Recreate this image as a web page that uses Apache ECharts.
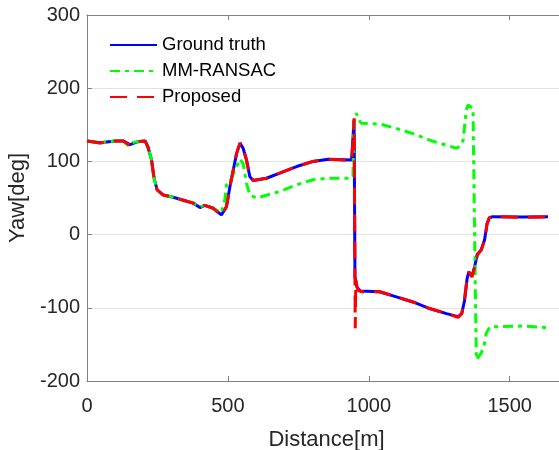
<!DOCTYPE html>
<html>
<head>
<meta charset="utf-8">
<script src="https://cdn.jsdelivr.net/npm/echarts@6/dist/echarts.min.js"></script>
<style>html,body{margin:0;padding:0;background:#fff;}#c{width:559px;height:450px;}</style>
</head>
<body>
<div id="c"></div>
<script>
var gtDist = [0,46,100,128,152,181,206,216,229,238,249,271,306,342,377,401,418,448,477,495,507,519,531,543,554,566,578,590,637,684,744,802,856,939,945,948,951,958,970,1039,1098,1157,1216,1276,1317,1330,1340,1349,1355,1366,1375,1385,1399,1411,1420,1428,1440,1547,1636];
var gtYaw  = [128,125.5,128,128,123,127,128,120,102,77,61,54,51,47,43,37,40,36,27,38,65,88,111,125,118,102,79,74,77,84,93,100,103,102,103,157,-58,-72,-77,-78,-85,-92,-101,-108,-112,-108,-90,-60,-51,-57,-45,-27,-21,-7,15,23,24.5,24,24.5];

var ransacDist = [0,46,100,128,145,152,165,181,206,216,229,238,249,271,306,342,377,401,418,448,477,489,495,507,525,543,554,566,578,602,684,744,802,856,940,944,947,956,962,974,1039,1098,1157,1216,1276,1311,1325,1335,1346,1352,1370,1376,1379,1382,1399,1410,1417,1429,1547,1636];
var ransacYaw  = [128,125.5,128,128,122,121,126,127,128,120,102,77,61,54,51,47,43,38,40,36,30,47,68,72,88,103,97,70,54,50,59,68,75,77,77,80,150,166,158,152,151,145,138,129,122,118,121,129,170,177,172.5,170,-100,-171,-162,-150,-135,-126,-125,-127];

var propDist = [0,46,100,128,152,181,206,216,229,238,249,271,306,342,377,401,418,448,477,495,507,519,531,543,554,566,578,590,637,684,744,802,856,940,946,948,952,954,961,975,1039,1098,1157,1216,1276,1317,1330,1340,1349,1355,1366,1375,1385,1399,1411,1420,1428,1440,1547,1636];
var propYaw  = [128,125,128,128,122,127,128,120,102,77,61,54,51,47,43,37,40,36,26,38,65,88,111,125,118,102,79,74,77,84,93,100,103,101,101,159,-128,-62,-76,-78,-78,-85,-92,-101,-108,-113,-108,-88,-60,-51,-58,-46,-28,-21,-8,15,23,24.5,23.5,24];

var xTicks = [0,500,1000,1500];
var yTicks = [-200,-100,0,100,200,300];

function zip(a,b){var r=[];for(var i=0;i<a.length;i++){r.push([a[i],b[i]]);}return r;}

var axisColor = '#808080';
var textColor = '#262626';
var font = 'Liberation Sans, Arial, sans-serif';

var chart = echarts.init(document.getElementById('c'), null, {renderer:'canvas'});
chart.setOption({
  animation:false,
  backgroundColor:'#ffffff',
  grid:{left:87, top:15, bottom:69, right:-7, containLabel:false, outerBoundsMode:'none'},
  legend:{
    left:109, top:35, padding:0, orient:'vertical', itemWidth:47, itemHeight:14, itemGap:6,
    itemStyle:{opacity:0},
    textStyle:{fontFamily:font, fontSize:18.5, color:'#000', lineHeight:20},
    data:['Ground truth','MM-RANSAC','Proposed']
  },
  xAxis:[{
    type:'value', min:0, max:1700, interval:500,
    name:'Distance[m]', nameLocation:'middle', nameGap:48,
    nameTextStyle:{fontFamily:font, fontSize:22, color:textColor},
    axisLine:{show:true, onZero:false, lineStyle:{color:axisColor, width:1}},
    axisTick:{show:true, inside:true, length:5, lineStyle:{color:axisColor}},
    axisLabel:{fontFamily:font, fontSize:20, color:textColor, margin:15,
      formatter:function(v){return xTicks.indexOf(v)>=0 ? String(v) : '';}},
    splitLine:{show:false}
  },{
    type:'value', position:'top', min:0, max:1700, interval:500,
    axisLine:{show:true, onZero:false, lineStyle:{color:axisColor, width:1}},
    axisTick:{show:true, inside:true, length:5, lineStyle:{color:axisColor}},
    axisLabel:{show:false}, splitLine:{show:false}
  }],
  yAxis:{
    type:'value', min:-200, max:300, interval:100,
    name:'Yaw[deg]', nameLocation:'middle', nameGap:48, nameRotate:90,
    nameTextStyle:{fontFamily:font, fontSize:22, color:textColor},
    axisLine:{show:true, onZero:false, lineStyle:{color:axisColor, width:1}},
    axisTick:{show:true, inside:true, length:5, lineStyle:{color:axisColor}},
    axisLabel:{fontFamily:font, fontSize:20, color:textColor, margin:7,
      formatter:function(v){return yTicks.indexOf(v)>=0 ? String(v) : '';}},
    splitLine:{show:true, lineStyle:{color:'#e3e3e3', width:1}}
  },
  series:[
    {name:'Ground truth', type:'line', data:zip(gtDist,gtYaw), symbol:'none', smooth:false,
     color:'#0000ff', lineStyle:{color:'#0000ff', width:3, type:'solid'}, z:2},
    {name:'MM-RANSAC', type:'line', data:zip(ransacDist,ransacYaw), symbol:'none',
     color:'#00ff00', lineStyle:{color:'#00ff00', width:3, type:[10,5,4,5]}, z:3},
    {name:'Proposed', type:'line', data:zip(propDist,propYaw), symbol:'none',
     color:'#ff0000', lineStyle:{color:'#ff0000', width:3, type:[17,10]}, z:4}
  ]
});
</script>
</body>
</html>
